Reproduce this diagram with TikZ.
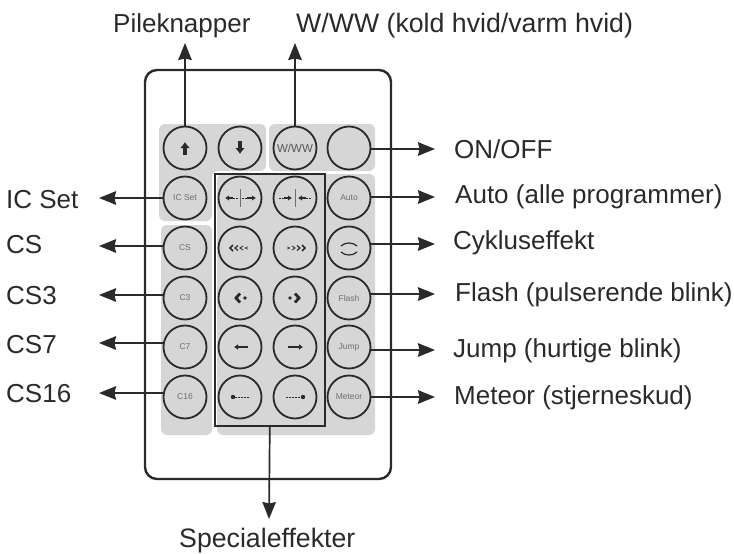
\documentclass[tikz,border=0pt]{standalone}
\usepackage{fontspec}
\setmainfont{Liberation Sans}
\usetikzlibrary{arrows.meta,positioning}
\definecolor{panel}{HTML}{D6D6D6}
\definecolor{ink}{HTML}{2A2A2A}
\definecolor{softink}{HTML}{6E6E6E}
\tikzset{
  shell/.style={draw=ink,line width=2.4pt,rounded corners=12pt},
  panelfill/.style={fill=panel,draw=none,rounded corners=6pt},
  btn/.style={circle,draw=ink,line width=1.8pt,minimum size=43pt,inner sep=0pt,font=\fontsize{8.5}{9}\selectfont,text=softink},
  lead/.style={draw=ink,line width=1.7pt,-{Stealth[length=17pt,width=13.5pt,inset=1.5pt]}},
  lbl/.style={font=\fontsize{26}{28}\selectfont,text=ink,inner sep=0pt,anchor=base west},
  widelbl/.style={lbl,font=\fontsize{26.7}{28}\selectfont},
  glyph/.style={draw=ink,line width=1.6pt},
  thin glyph/.style={draw=ink,line width=1pt,dash pattern=on 1.8pt off 1.2pt},
  gtip/.style={-{Latex[length=4pt,width=5.5pt]}}
}
\begin{document}
\begin{tikzpicture}[x=1pt,y=-1pt]
\useasboundingbox (0,0) rectangle (734,554);
% panels
\fill[panelfill] (159,124) -- (266,124) -- (266,171) -- (212,171) -- (212,221) -- (159,221) -- cycle;
\fill[panelfill] (269,124) rectangle (375,171);
\fill[panelfill] (161,225) rectangle (212,435);
\fill[panelfill] (217,174) rectangle (375,435);
% shell
\draw[shell] (145,70) rectangle (391,479);
% special box
\node[draw=ink,line width=1.6pt,inner sep=0pt,minimum width=110pt,minimum height=252pt,anchor=north west] (special) at (214,173) {};
% buttons
\node[btn] (up) at (185,148) {};
\node[btn] (down) at (240,148) {};
\node[btn,font=\fontsize{11.5}{12}\selectfont,text=ink!80] (ww) at (295,148) {W/WW};
\node[btn] (onoff) at (349,148) {};
\node[btn] (icset) at (185,198) {IC Set};
\node[btn] (a1) at (240,198) {};
\node[btn] (a2) at (295,198) {};
\node[btn] (auto) at (349,198) {Auto};
\node[btn] (cs) at (185,248) {CS};
\node[btn] (b1) at (240,248) {};
\node[btn] (b2) at (295,248) {};
\node[btn] (cyc) at (349,248) {};
\node[btn] (c3) at (185,298) {C3};
\node[btn] (c1) at (240,298) {};
\node[btn] (c2) at (295,298) {};
\node[btn] (flash) at (349,298) {Flash};
\node[btn] (c7) at (185,347) {C7};
\node[btn] (d1) at (240,347) {};
\node[btn] (d2) at (295,347) {};
\node[btn] (jump) at (349,347) {Jump};
\node[btn] (c16) at (185,397) {C16};
\node[btn] (e1) at (240,397) {};
\node[btn] (e2) at (295,397) {};
\node[btn] (meteor) at (349,397) {Meteor};
% glyphs
\draw[ink,line width=3.4pt,-{Latex[length=6pt,width=10pt]}] (185,155) -- (185,142);
\draw[ink,line width=3.4pt,-{Latex[length=6pt,width=10pt]}] (240,141) -- (240,154);
\draw[glyph,gtip] (233,198) -- (225,198);
\draw[thin glyph] (233,198) -- (238,198); \draw[thin glyph] (242,198) -- (247,198);
\draw[glyph,gtip] (247,198) -- (256,198);
\draw[softink,line width=1pt] (240,189) -- (240,207);
\draw[glyph,gtip] (284,198) -- (292,198);
\draw[thin glyph] (279,198) -- (284,198);
\draw[thin glyph] (306,198) -- (311,198);
\draw[glyph,gtip] (306,198) -- (298,198);
\draw[softink,line width=1pt] (295,189) -- (295,207);
\foreach \x/\s/\w in {231/3/1.7,236/2.5/1.2,241/2/.9,246/1.2/.6}
  \draw[ink,line width=\w pt] (\x+2,248-\s) -- (\x-1,248) -- (\x+2,248+\s);
\foreach \x/\s/\w in {304/3/1.7,299/2.5/1.2,294/2/.9,289/1.2/.6}
  \draw[ink,line width=\w pt] (\x-2,248-\s) -- (\x+1,248) -- (\x-2,248+\s);
\draw[ink,line width=2.8pt] (240,293.5) -- (236,298) -- (240,302.5);
\fill[ink] (245,298) circle (1.8pt);
\draw[ink,line width=2.8pt] (295,293.5) -- (299,298) -- (295,302.5);
\fill[ink] (290,298) circle (1.8pt);
\draw[ink,line width=2.2pt,-{Latex[length=4pt,width=6pt]}] (248,347) -- (234,347);
\draw[ink,line width=2.2pt,-{Latex[length=4pt,width=6pt]}] (288,347) -- (303,347);
\fill[ink] (233,397) circle (2.2pt);
\draw[thin glyph] (235,397) -- (250,397);
\fill[ink] (303,397) circle (2.2pt);
\draw[thin glyph] (286,397) -- (301,397);
\draw[ink,line width=1.2pt] (341,246) .. controls (345,242) and (353,242) .. (357,246);
\draw[ink,line width=1.2pt] (341,252) .. controls (345,256) and (353,256) .. (357,252);
% labels
\node[lbl] (lup) at (113,32) {Pileknapper};
\node[widelbl] (lww) at (296,32) {W/WW (kold hvid/varm hvid)};
\node[lbl] (lonoff) at (454,158) {ON/OFF};
\node[lbl] (lauto) at (455,203) {Auto (alle programmer)};
\node[lbl] (lcyc) at (453,249) {Cykluseffekt};
\node[lbl] (lflash) at (455,301) {Flash (pulserende blink)};
\node[lbl] (ljump) at (453,357) {Jump (hurtige blink)};
\node[lbl] (lmeteor) at (454,404) {Meteor (stjerneskud)};
\node[lbl] (licset) at (6,208) {IC Set};
\node[lbl] (lcs) at (6,253) {CS};
\node[lbl] (lc3) at (6,304) {CS3};
\node[lbl] (lc7) at (6,353) {CS7};
\node[lbl] (lc16) at (6,402) {CS16};
\node[widelbl] (lspecial) at (179,547) {Specialeffekter};
% arrow ends
\coordinate (tup) at (185,43);
\coordinate (tww) at (295,43);
\coordinate (tonoff) at (435,149);
\coordinate (tauto) at (435,197);
\coordinate (tcyc) at (435,244);
\coordinate (tflash) at (435,294);
\coordinate (tjump) at (435,350);
\coordinate (tmeteor) at (435,397);
\coordinate (ticset) at (99,198);
\coordinate (tcs) at (99,246);
\coordinate (tc3) at (99,295);
\coordinate (tc7) at (99,343);
\coordinate (tc16) at (99,393);
\coordinate (tspecial) at (269,519);
% connectors
\draw[lead] (up.north) -- (tup);
\draw[lead] (ww.north) -- (tww);
\draw[lead] (onoff.east |- tonoff) -- (tonoff);
\draw[lead] (auto.east |- tauto) -- (tauto);
\draw[lead] (cyc.east |- tcyc) -- (tcyc);
\draw[lead] (flash.east |- tflash) -- (tflash);
\draw[lead] (jump.east |- tjump) -- (tjump);
\draw[lead] (meteor.east) -- (tmeteor);
\draw[lead] (icset.west) -- (ticset);
\draw[lead] (cs.west |- tcs) -- (tcs);
\draw[lead] (c3.west |- tc3) -- (tc3);
\draw[lead] (c7.west |- tc7) -- (tc7);
\draw[lead] (c16.west |- tc16) -- (tc16);
\draw[lead] (special.south) -- (tspecial);
\end{tikzpicture}
\end{document}
